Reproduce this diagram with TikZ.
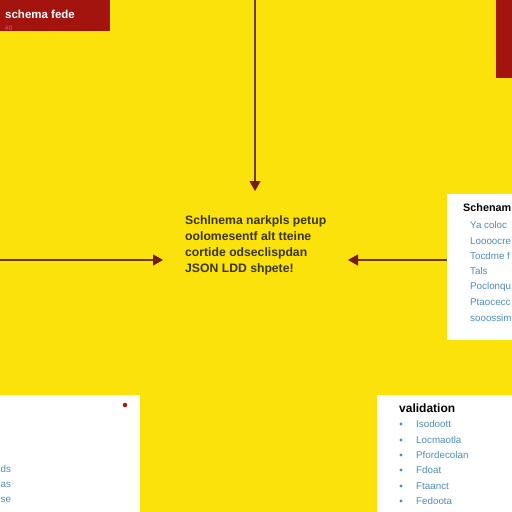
\documentclass[tikz,border=0pt]{standalone}
\usepackage{fontspec}
\setmainfont{Liberation Sans}
\usetikzlibrary{arrows.meta}
\definecolor{bgyellow}{HTML}{FBE20A}
\definecolor{darkred}{HTML}{A3140F}
\definecolor{arrowred}{HTML}{7A1A12}
\definecolor{linecol}{HTML}{6A3A12}
\definecolor{bodytext}{HTML}{3A3610}
\definecolor{itemblue}{HTML}{4E8DB8}
\tikzset{
  panel/.style={fill=white, draw=none},
  redpanel/.style={fill=darkred, draw=none},
  conn/.style={draw=linecol, line width=1.1pt, -{Triangle[length=10pt,width=11pt,color=arrowred]}},
  maintext/.style={font=\bfseries\fontsize{12.2}{16}\selectfont, text=bodytext, align=left, anchor=north west, inner sep=0pt},
  heading/.style={font=\bfseries\fontsize{12}{14}\selectfont, text=black, anchor=west, inner sep=0pt},
  item/.style={font=\fontsize{9.8}{11}\selectfont, text=itemblue, anchor=west, inner sep=0pt},
  bullet/.style={circle, fill=itemblue, inner sep=0pt, minimum size=3.4pt}
}
\begin{document}
\begin{tikzpicture}[x=1pt,y=-1pt]
\useasboundingbox (0,0) rectangle (512,512);
\clip (0,0) rectangle (512,512);
\fill[bgyellow] (0,0) rectangle (512,512);
% top-left red box
\fill[redpanel] (0,0) rectangle (110,31);
\node[font=\bfseries\fontsize{11.5}{13}\selectfont, text=white, anchor=west, inner sep=0pt] (title) at (5,14) {schema fede};
\node[font=\fontsize{6.5}{7}\selectfont, text=magenta!70!white, anchor=west, inner sep=0pt] (tag) at (5,28) {\#0};
% top-right red strip
\fill[redpanel] (496,0) rectangle (512,78);
% center text
\node[maintext] (center) at (185,215) {Schlnema narkpls petup\\oolomesentf alt tteine\\cortide odseclispdan\\JSON LDD shpete!};
\coordinate (topstart) at (255,0);
\coordinate (toptip) at (255,191);
\coordinate (leftstart) at (0,260);
\coordinate (lefttip) at (163,260);
\coordinate (rightstart) at (447,260);
\coordinate (righttip) at (348,260);
\draw[conn] (topstart) -- (toptip);
\draw[conn] (leftstart) -- (lefttip);
\draw[conn] (rightstart) -- (righttip);
% right box
\fill[panel] (447,194) rectangle (514,340);
\node[heading, font=\bfseries\fontsize{10.8}{13}\selectfont] (rh) at (463,208) {Schenam};
\node[item] (r1) at (470,225) {Ya coloc};
\node[item] (r2) at (470,241) {Loooocre};
\node[item] (r3) at (470,256) {Tocdme f};
\node[item] (r4) at (470,271) {Tals};
\node[item] (r5) at (470,287) {Poclonqu};
\node[item] (r6) at (470,302) {Ptaocecc};
\node[item] (r7) at (470,318) {sooossim};
% bottom-left box
\fill[panel] (-2,395) rectangle (140,514);
\node[circle, fill=darkred, inner sep=0pt, minimum size=4.5pt] (mark) at (125,405) {};
\node[item] (l1) at (0.5,469) {ds};
\node[item] (l2) at (0.5,485) {as};
\node[item] (l3) at (0.5,500) {se};
% bottom-right box
\fill[panel] (377,395) rectangle (514,514);
\node[heading] (vh) at (399,408) {validation};
\foreach \y/\t/\n in {424/Isodoott/1, 440/Locmaotla/2, 455/Pfordecolan/3, 470/Fdoat/4, 486/Ftaanct/5, 501/Fedoota/6}{
  \node[bullet] (b\n) at (401,\y) {};
  \node[item] (v\n) at (416,\y) {\t};
}
\end{tikzpicture}
\end{document}
